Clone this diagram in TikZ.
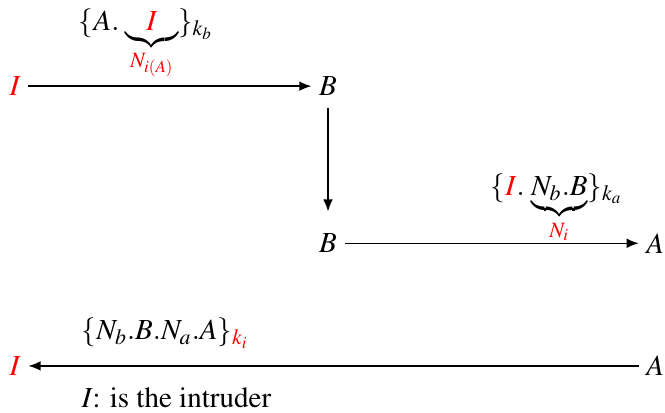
\documentclass[tikz,border=0pt]{standalone}
\usepackage{amsmath, amssymb}
\usepackage{mathptmx}
\usepackage{tikz}
\usetikzlibrary{arrows.meta, positioning}
\usepackage{xcolor}
\newcommand{\timestext}{\fontencoding{OT1}\fontfamily{ptm}\selectfont}

\begin{document}
\begin{tikzpicture}[
  font=\fontsize{12}{14}\selectfont\timestext,
  agent/.style={inner sep=3pt},
  msg/.style={anchor=base, inner sep=0pt},
  arrow/.style={-{Latex[length=5pt, width=4pt]}, semithick},
]
\useasboundingbox (0, 0) rectangle (9.65, -5.98);

% Agents
\node[agent, text=red] (i_top) at (0.22, -1.25) {$I$};
\node[agent] (b_top) at (4.76, -1.25) {$B$};
\node[agent] (b_mid) at (4.76, -3.53) {$B$};
\node[agent] (a_mid) at (9.51, -3.53) {$A$};
\node[agent] (a_bot) at (9.51, -5.31) {$A$};
\node[agent, text=red] (i_bot) at (0.22, -5.31) {$I$};

% Messages
\node[msg] (msg1) at (2.12, -0.44)
  {$\{A.\,\underbrace{\;\;{\color{red}I}\;\;}_{\color{red}N_{i(A)}}\}_{k_b}$};
\node[msg] (msg2) at (8.08, -2.83)
  {$\{{\color{red}I}.\,\underbrace{N_b.B}_{\color{red}N_i}\}_{k_a}$};
\node[msg] (msg3) at (2.40, -4.93)
  {$\{N_b.B.N_a.A\}_{\color{red}k_i}$};

% Note
\node[msg] (note) at (2.56, -5.92) {$I$: is the intruder};

% Arrows
\draw[arrow] (i_top) -- (b_top);
\draw[arrow, shorten <=2pt, shorten >=6pt] (b_top) -- (b_mid);
\draw[arrow] (b_mid) -- (a_mid);
\draw[arrow] (a_bot) -- (i_bot);
\end{tikzpicture}
\end{document}
